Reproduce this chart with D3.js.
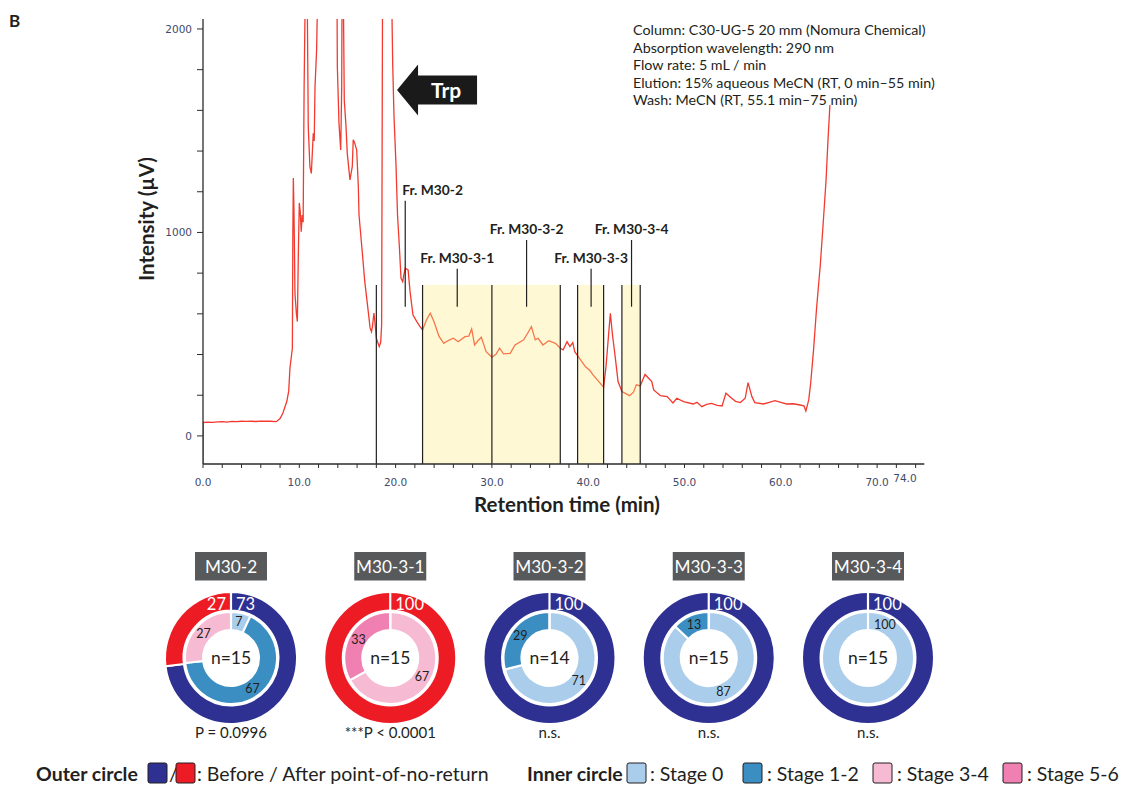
<!DOCTYPE html>
<html>
<head>
<meta charset="utf-8">
<script src="https://cdn.jsdelivr.net/npm/d3@7"></script>
<style>
  body { margin: 0; background: #fff; }
  text { font-family: Lato, "Open Sans", sans-serif; fill: #231f20; }
  .tick-label { font-family: "DejaVu Sans", sans-serif; font-size: 10.5px; fill: #3d4b6b; }
</style>
</head>
<body>
<div id="chart"></div>
<script>
// chromatogram trace (min, µV); values above 2000 are clipped
const traceTime = [0, 0.02, 0.5, 1.0, 1.5, 2.0, 2.5, 3.0, 3.5, 4.0, 4.5, 5.0, 5.5, 6.0, 6.5, 7.0, 7.6, 8.0, 8.3, 8.7, 8.9,
  9.03, 9.2, 9.28, 9.33, 9.38, 9.45, 9.55, 9.7, 9.8, 9.9, 10.0, 10.1, 10.2, 10.3, 10.4, 10.5, 10.65, 10.8, 10.93,
  11.1, 11.25, 11.45, 11.55, 11.63, 11.8, 11.95, 13.9, 13.95, 14.12, 14.3, 14.4, 14.45, 14.55, 14.67, 14.85, 14.98,
  15.26, 15.5, 15.6, 15.75, 15.96, 16.13, 16.2, 16.5, 16.8, 17.2, 17.35, 17.5, 17.6, 17.75, 17.85, 18.0, 18.3, 18.45,
  18.55, 18.65, 19.55, 19.7, 19.83, 20.04, 20.2, 20.4, 20.56, 20.74, 20.85, 21.0, 21.3, 21.5, 21.8, 22.2, 22.5, 22.8,
  23.2, 23.6, 24.0, 24.5, 25.0, 25.5, 26.0, 26.5, 27.2, 27.6, 27.9, 28.2, 28.6, 28.9, 29.4, 30.0, 30.4, 30.8, 31.2,
  31.9, 32.4, 33.3, 33.8, 34.1, 34.5, 34.8, 35.3, 35.9, 36.6, 37.1, 37.4, 37.8, 38.1, 38.4, 38.6, 39.1, 39.7, 40.2,
  40.5, 41.1, 41.6, 41.85, 42.1, 42.3, 42.5, 42.8, 43.1, 43.5, 44.3, 44.7, 45.0, 45.4, 45.9, 46.6, 46.8, 47.3, 47.5,
  48.2, 48.8, 49.2, 49.9, 50.9, 51.3, 51.8, 52.3, 52.8, 53.4, 53.9, 54.3, 54.9, 55.3, 55.8, 56.3, 56.6, 57.0, 57.3,
  58.2, 58.8, 59.4, 60.0, 60.6, 61.3, 62.0, 62.4, 62.6, 62.9, 63.1, 63.4, 63.7, 64.1, 64.4, 64.7, 64.9, 65.1]
const traceIntensity = [-140, 66, 68, 67, 69, 70, 68, 71, 70, 72, 71, 72, 71, 73, 72, 72, 70, 85, 113, 169, 220,
  334, 400, 431, 1000, 1268, 1100, 700, 600, 562, 900, 1145, 1100, 1004, 1086, 1050, 1716, 2300, 2300, 1520,
  1323, 1290, 1487, 1450, 1716, 1900, 2300, 2300, 1815, 1536, 1405, 1700, 2300, 2300, 1651, 1520, 1390,
  1258, 1323, 1455, 1440, 1405, 1225, 1086, 924, 758, 595, 531, 512, 540, 604, 560, 480, 439, 460,
  545, 2300, 2300, 1823, 1577, 1332, 1086, 922, 775, 758, 790, 824, 816, 709, 595, 562, 540, 521,
  570, 603, 560, 490, 455, 470, 480, 463, 488, 490, 526, 447, 470, 485, 414, 387, 400, 431, 403,
  406, 447, 472, 512, 537, 472, 480, 447, 468, 455, 431, 423, 463, 439, 459, 414, 381, 341, 320,
  300, 267, 239, 341, 488, 603, 505, 390, 267, 218, 198, 215, 251, 246, 302, 267, 226, 206, 198,
  193, 162, 185, 169, 157, 165, 144, 155, 160, 150, 147, 210, 185, 170, 164, 185, 262, 193, 164,
  157, 165, 173, 165, 157, 158, 152, 148, 122, 177, 259, 423, 620, 840, 1045, 1258, 1455, 1627]

const xTickValues = [0, 10, 20, 30, 40, 50, 60, 70]
const yTickValues = [0, 1000, 2000]

// collected fractions (min)
const fractionCuts = [18.0, 22.8, 30.0, 37.1, 38.9, 41.6, 43.5, 45.4]
const pooledRanges = [[22.8, 37.1], [38.9, 41.6], [43.5, 45.4]]
const fractionNames = ["Fr. M30-2", "Fr. M30-3-1", "Fr. M30-3-2", "Fr. M30-3-3", "Fr. M30-3-4"]
const fractionMarkTime = [21.0, 26.4, 33.6, 40.3, 44.5]

const methodLines = [
  "Column: C30-UG-5 20 mm (Nomura Chemical)",
  "Absorption wavelength: 290 nm",
  "Flow rate: 5 mL / min",
  "Elution: 15% aqueous MeCN (RT, 0 min\u201355 min)",
  "Wash: MeCN (RT, 55.1 min\u201375 min)"
]

// donut data (%)
const donutNames = ["M30-2", "M30-3-1", "M30-3-2", "M30-3-3", "M30-3-4"]
const outerBefore = [73, 0, 100, 100, 100]
const outerAfter = [27, 100, 0, 0, 0]
const stage0 = [7, 0, 71, 87, 100]
const stage12 = [67, 0, 29, 13, 0]
const stage34 = [27, 67, 0, 0, 0]
const stage56 = [0, 33, 0, 0, 0]
const nCounts = [15, 15, 14, 15, 15]
const pLabels = ["P = 0.0996", "***P < 0.0001", "n.s.", "n.s.", "n.s."]

const colors = {
  before: "#2e3192", after: "#ed1c24",
  s0: "#abcdec", s12: "#3a8ec2", s34: "#f7bad3", s56: "#ef80b1",
  trace: "#f23a2f"
}

function drawChart() {
  const width = 1124
  const height = 785

  const svg = d3.select("#chart").append("svg")
    .attr("width", width)
    .attr("height", height)

  // scales
  const xScale = d3.scaleLinear().domain([0, 74.9]).range([203, 924.3])
  const yScale = d3.scaleLinear().domain([-138, 2049]).range([464, 19])

  svg.append("text")
    .attr("x", 9).attr("y", 27)
    .attr("font-weight", 700).attr("font-size", 17)
    .text("B")

  // trace
  svg.append("defs").append("clipPath").attr("id", "plot-clip")
    .append("rect")
    .attr("x", xScale(0)).attr("y", yScale(2049))
    .attr("width", xScale(74.9) - xScale(0))
    .attr("height", yScale(-138) - yScale(2049))

  const points = traceTime.map((t, i) => [t, traceIntensity[i]])
  const line = d3.line().x(d => xScale(d[0])).y(d => yScale(d[1]))

  svg.append("path")
    .datum(points)
    .attr("clip-path", "url(#plot-clip)")
    .attr("fill", "none")
    .attr("stroke", colors.trace)
    .attr("stroke-width", 1.3)
    .attr("d", line)

  // pooled fraction shading (drawn over the trace, translucent)
  const fracTop = 742
  svg.selectAll(".pool")
    .data(pooledRanges)
    .enter().append("rect")
    .attr("x", d => xScale(d[0]))
    .attr("width", d => xScale(d[1]) - xScale(d[0]))
    .attr("y", yScale(fracTop))
    .attr("height", yScale(-138) - yScale(fracTop))
    .attr("fill", "rgb(255,235,132)")
    .attr("opacity", 0.35)

  svg.selectAll(".cut")
    .data(fractionCuts)
    .enter().append("line")
    .attr("x1", d => xScale(d)).attr("x2", d => xScale(d))
    .attr("y1", yScale(fracTop)).attr("y2", yScale(-138))
    .attr("stroke", "#231f20").attr("stroke-width", 1.2)

  const markTops = [1156, 821, 963, 821, 963]
  svg.selectAll(".mark")
    .data(fractionMarkTime)
    .enter().append("line")
    .attr("x1", d => xScale(d)).attr("x2", d => xScale(d))
    .attr("y1", (d, i) => yScale(markTops[i])).attr("y2", yScale(635))
    .attr("stroke", "#231f20").attr("stroke-width", 1.2)

  svg.selectAll(".frac-label")
    .data(fractionNames)
    .enter().append("text")
    .attr("x", (d, i) => i == 0 ? xScale(fractionMarkTime[i]) - 3 : xScale(fractionMarkTime[i]))
    .attr("y", (d, i) => yScale(markTops[i]) - 6)
    .attr("text-anchor", (d, i) => i == 0 ? "start" : "middle")
    .attr("font-weight", 700)
    .attr("font-size", 13.8)
    .text(d => d)

  // Trp arrow
  const ax = xScale(20.15), ay = yScale(1700)
  const headLen = 21, headHalf = 25.5, bodyHalf = 14.5, bodyLen = 80
  svg.append("path")
    .attr("d", `M${ax},${ay} L${ax + headLen},${ay - headHalf} L${ax + headLen},${ay - bodyHalf}
      L${ax + bodyLen},${ay - bodyHalf} L${ax + bodyLen},${ay + bodyHalf} L${ax + headLen},${ay + bodyHalf}
      L${ax + headLen},${ay + headHalf} Z`)
    .attr("fill", "#1a1a1a")
  svg.append("text")
    .attr("x", ax + 49).attr("y", ay + 7.5)
    .attr("text-anchor", "middle")
    .attr("font-weight", 700).attr("font-size", 21)
    .style("fill", "#fff")
    .text("Trp")

  // method notes
  svg.selectAll(".method")
    .data(methodLines)
    .enter().append("text")
    .attr("x", 633)
    .attr("y", (d, i) => 35 + i * 17.6)
    .attr("font-size", 14.3)
    .text(d => d)

  // axes
  const axisColor = "#2b2b2b"
  svg.append("line")
    .attr("x1", xScale(0)).attr("x2", xScale(0))
    .attr("y1", yScale(2049)).attr("y2", yScale(-138))
    .attr("stroke", axisColor).attr("stroke-width", 1.3)
  svg.append("line")
    .attr("x1", xScale(0)).attr("x2", xScale(74.9))
    .attr("y1", yScale(-138)).attr("y2", yScale(-138))
    .attr("stroke", axisColor).attr("stroke-width", 1.3)

  svg.selectAll(".xminor")
    .data(d3.range(0, 75, 2))
    .enter().append("line")
    .attr("x1", d => xScale(d)).attr("x2", d => xScale(d))
    .attr("y1", yScale(-138)).attr("y2", yScale(-138) + 4)
    .attr("stroke", axisColor)
  svg.selectAll(".yminor")
    .data(d3.range(0, 2001, 200))
    .enter().append("line")
    .attr("x1", xScale(0) - 6).attr("x2", xScale(0))
    .attr("y1", d => yScale(d)).attr("y2", d => yScale(d))
    .attr("stroke", axisColor)

  svg.selectAll(".xlab")
    .data(xTickValues)
    .enter().append("text")
    .attr("class", "tick-label")
    .attr("x", d => xScale(d)).attr("y", 486)
    .attr("text-anchor", "middle")
    .text(d => d.toFixed(1))
  svg.append("text")
    .attr("class", "tick-label")
    .attr("x", xScale(74) + 1).attr("y", 482)
    .attr("text-anchor", "end")
    .text("74.0")
  svg.selectAll(".ylab")
    .data(yTickValues)
    .enter().append("text")
    .attr("class", "tick-label")
    .attr("x", 192).attr("y", d => yScale(d) + 4)
    .attr("text-anchor", "end")
    .text(d => d)

  svg.append("text")
    .attr("x", 567).attr("y", 512)
    .attr("text-anchor", "middle")
    .attr("font-weight", 700).attr("font-size", 20.5)
    .text("Retention time (min)")
  svg.append("text")
    .attr("transform", "translate(154, 219) rotate(-90)")
    .attr("text-anchor", "middle")
    .attr("font-weight", 700).attr("font-size", 20.5)
    .text("Intensity (\u00b5V)")

  // donuts
  const donutX = d3.scalePoint().domain(donutNames).range([231, 868])
  const cy = 658
  const outerArc = d3.arc().innerRadius(47.5).outerRadius(66)
  const innerArc = d3.arc().innerRadius(28).outerRadius(46)
  const pie = d3.pie().sort(null).value(d => d.value)

  donutNames.forEach((name, i) => {
    const g = svg.append("g").attr("transform", `translate(${donutX(name)}, ${cy})`)

    const outer = [
      {value: outerBefore[i], color: colors.before},
      {value: outerAfter[i], color: colors.after}
    ].filter(d => d.value > 0)
    const inner = [
      {value: stage0[i], color: colors.s0},
      {value: stage12[i], color: colors.s12},
      {value: stage34[i], color: colors.s34},
      {value: stage56[i], color: colors.s56}
    ].filter(d => d.value > 0)

    const outerSlices = pie(outer)
    const innerSlices = pie(inner)

    g.selectAll(".outer").data(outerSlices).enter().append("path")
      .attr("d", outerArc).attr("fill", d => d.data.color)
      .attr("stroke", "#fff").attr("stroke-width", 2)
    g.selectAll(".inner").data(innerSlices).enter().append("path")
      .attr("d", innerArc).attr("fill", d => d.data.color)
      .attr("stroke", "#fff").attr("stroke-width", 2)
    g.append("line")
      .attr("x1", 0).attr("x2", 0).attr("y1", -27).attr("y2", -67)
      .attr("stroke", "#fff").attr("stroke-width", 2.2)

    // outer labels sit either side of 12 o'clock
    outerSlices.forEach((s, k) => {
      const last = k == outerSlices.length - 1 && k > 0
      g.append("text")
        .attr("x", last ? -5 : 5).attr("y", -48)
        .attr("text-anchor", last ? "end" : "start")
        .attr("font-size", 16.5)
        .style("fill", "#fff")
        .text(s.data.value)
    })

    innerSlices.forEach(s => {
      const full = s.data.value == 100
      const [lx, ly] = full ? [6, -29] : innerArc.centroid(s)
      g.append("text")
        .attr("x", lx).attr("y", full ? ly : ly + 4.5)
        .attr("text-anchor", full ? "start" : "middle")
        .attr("font-size", 12.5)
        .text(s.data.value)
    })

    g.append("text")
      .attr("y", 6).attr("text-anchor", "middle")
      .attr("font-size", 17.5)
      .text(`n=${nCounts[i]}`)

    g.append("text")
      .attr("y", 80).attr("text-anchor", "middle")
      .attr("font-size", 15)
      .text(pLabels[i])

    g.append("rect")
      .attr("x", -36).attr("y", -106).attr("width", 72).attr("height", 28.5)
      .attr("fill", "#58595b")
    g.append("text")
      .attr("y", -85.5).attr("text-anchor", "middle")
      .attr("font-size", 17.2)
      .style("fill", "#fff")
      .text(name)
  })

  // legend
  const legendY = 781
  const legend = svg.append("g")
  const swatch = (x, color) => legend.append("rect")
    .attr("x", x).attr("y", legendY - 18).attr("width", 19).attr("height", 20).attr("rx", 2)
    .attr("fill", color).attr("stroke", "#231f20").attr("stroke-width", 1)
  const label = (x, txt, bold) => legend.append("text")
    .attr("x", x).attr("y", legendY)
    .attr("font-size", 19.5)
    .attr("font-weight", bold ? 700 : 400)
    .text(txt)

  label(36, "Outer circle", true)
  swatch(148, colors.before)
  label(169, "/", false)
  swatch(176, colors.after)
  label(197, ": Before / After point-of-no-return", false)
  label(527, "Inner circle", true)
  swatch(627, colors.s0)
  label(650, ": Stage 0", false)
  swatch(743, colors.s12)
  label(767, ": Stage 1-2", false)
  swatch(873, colors.s34)
  label(897, ": Stage 3-4", false)
  swatch(1003, colors.s56)
  label(1027, ": Stage 5-6", false)
}
drawChart()
</script>
</body>
</html>
